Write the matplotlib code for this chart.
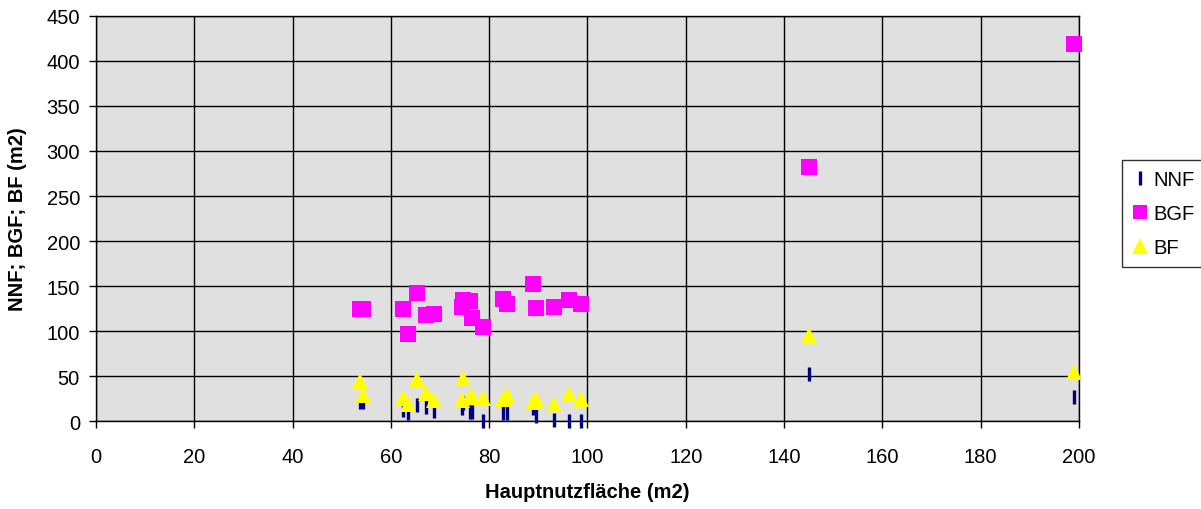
import matplotlib
matplotlib.use("Agg")
import matplotlib.pyplot as plt
from matplotlib.lines import Line2D

plt.rcParams['font.family'] = ['Liberation Sans', 'DejaVu Sans']

# Hauptnutzfläche je Objekt und zugehörige Flächen (m2)
hnf = [53.8, 54.4, 62.4, 63.5, 65.4, 67.1, 68.8, 74.4, 74.7, 76.1, 76.6,
       78.8, 82.8, 83.7, 88.9, 89.5, 93.1, 96.3, 98.7, 145.0, 199.0]
nnf = [21, 21, 12, 9, 18, 16, 11, 14, 20, 10, 10,
       0, 9, 9, 15, 6, 1.5, 0, 0, 52, 27]
bgf = [124, 124, 124, 97, 142, 118, 119, 127, 134, 133, 114,
       105, 136, 130, 152, 126, 127, 135, 130, 282, 419]
bf = [44, 29, 26, 18.5, 47, 31, 23, 23, 48, 27, 28,
      26, 24, 28.5, 21, 25, 19, 30, 24, 96, 54]

x_ticks = list(range(0, 201, 20))
y_ticks = list(range(0, 451, 50))

NAVY = '#000080'
PINK = '#FF00FF'
YELLOW = '#FFFF00'

fig = plt.figure(figsize=(12.01, 5.10), dpi=100)
ax = fig.add_axes([0.0799, 0.1725, 0.8185, 0.7942])
ax.set_facecolor('#E0E0E0')

ax.plot(hnf, nnf, linestyle='none', marker='|', color=NAVY,
        markersize=10.5, markeredgewidth=2.4, clip_on=False, zorder=3)
ax.plot(hnf, bgf, linestyle='none', marker='s', color=PINK,
        markersize=11.2, markeredgewidth=0, clip_on=False, zorder=4)
ax.plot(hnf, bf, linestyle='none', marker='^', color=YELLOW,
        markersize=11, markeredgewidth=0, clip_on=False, zorder=5)

ax.set_xlim(0, 200)
ax.set_ylim(0, 450)
ax.set_xticks(x_ticks)
ax.set_yticks(y_ticks)
ax.grid(True, color='black', linewidth=1.0)
ax.set_axisbelow(True)
for s in ax.spines.values():
    s.set_color('black')
    s.set_linewidth(1.0)
ax.tick_params(direction='out', length=5, width=1, labelsize=14.5)
ax.tick_params(axis='x', pad=14)
ax.tick_params(axis='y', pad=6.5)

ax.set_xlabel('Hauptnutzfläche (m2)', fontsize=14.5, fontweight='bold', labelpad=11)
ax.set_ylabel('NNF; BGF; BF (m2)', fontsize=14.5, fontweight='bold', labelpad=14)

# legend handles a bit smaller than the plotted squares
handles = [
    Line2D([], [], linestyle='none', marker='|', color=NAVY,
           markersize=10.5, markeredgewidth=2.4),
    Line2D([], [], linestyle='none', marker='s', color=PINK,
           markersize=10.5, markeredgewidth=0),
    Line2D([], [], linestyle='none', marker='^', color=YELLOW,
           markersize=11, markeredgewidth=0),
]
leg = fig.legend(handles=handles, labels=['NNF', 'BGF', 'BF'], loc='upper left',
                 bbox_to_anchor=(1122 / 1201, 1 - 161 / 510), fontsize=14.5,
                 frameon=True, fancybox=False, edgecolor='black',
                 handlelength=0.8, handletextpad=0.25, borderpad=0.5,
                 labelspacing=0.75, borderaxespad=0)
leg.get_frame().set_linewidth(1.0)

fig.savefig('out.png', dpi=100)
